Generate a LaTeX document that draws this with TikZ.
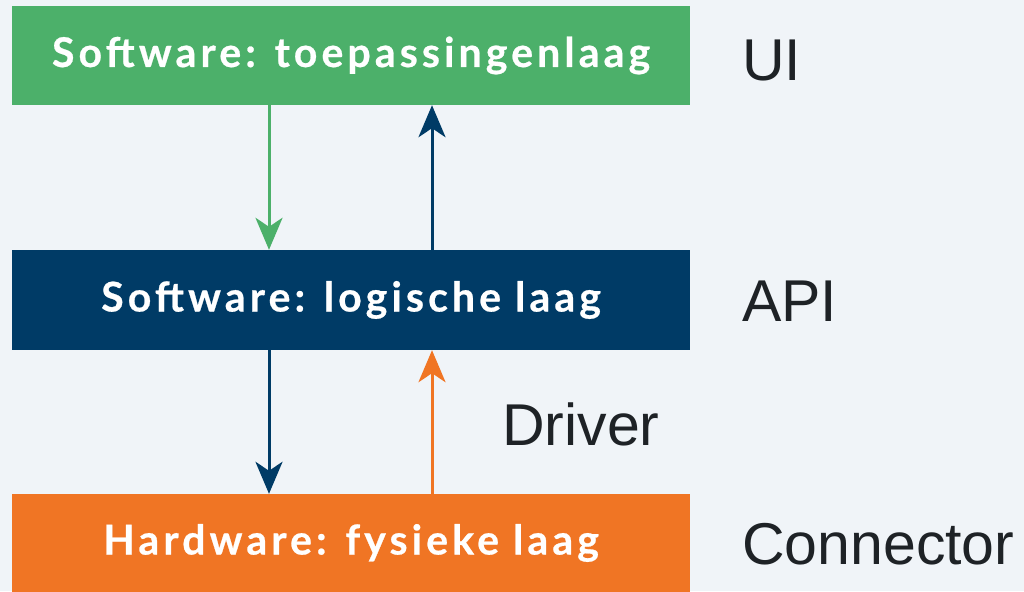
\documentclass[tikz,border=0pt]{standalone}
\usepackage{fontspec}
\setmainfont{Liberation Sans}
\newfontfamily\boxfont[LetterSpace=10,FakeBold=0.6]{Lato}
\usetikzlibrary{arrows.meta}
\definecolor{bgc}{HTML}{F0F4F8}
\definecolor{cgreen}{HTML}{4CB06A}
\definecolor{cblue}{HTML}{003B66}
\definecolor{corange}{HTML}{F07524}
\definecolor{ctext}{HTML}{1E2226}
\tikzset{
  layer/.style={minimum width=678pt, inner sep=0pt, text=white,
    font=\boxfont\bfseries\fontsize{41}{41}\selectfont,
    text height=29pt, text depth=6pt},
  side/.style={anchor=base west, inner sep=0pt, text=ctext,
    font=\fontsize{59}{59}\selectfont},
  arr/.style={line width=3pt, -{Stealth[length=32pt,width=27pt,inset=9pt]}}
}
\begin{document}
\begin{tikzpicture}[x=1pt,y=-1pt]
\fill[bgc] (0,0) rectangle (1024,591);
\useasboundingbox (0,0) rectangle (1024,591);
\node[layer, fill=cgreen, minimum height=99pt] (ui) at (351,55.5) {Software: toepassingenlaag};
\node[layer, fill=cblue, minimum height=100pt] (api) at (351,300) {Software: logische laag};
\node[layer, fill=corange, minimum height=98pt] (hw) at (351,543) {Hardware: fysieke laag};
\draw[arr, cgreen] ([xshift=-82pt]ui.south) -- ([xshift=-82pt]api.north);
\draw[arr, cblue] ([xshift=81pt]api.north) -- ([xshift=81pt]ui.south);
\draw[arr, cblue] ([xshift=-82pt]api.south) -- ([xshift=-82pt]hw.north);
\draw[arr, corange] ([xshift=81pt]hw.north) -- ([xshift=81pt]api.south);
\node[side] (lui) at (742,81) {UI};
\node[side] (lapi) at (742,321) {API};
\node[side] (ldrv) at (502,445) {Driver};
\node[side] (lcon) at (742,564) {Connector};
\end{tikzpicture}
\end{document}
